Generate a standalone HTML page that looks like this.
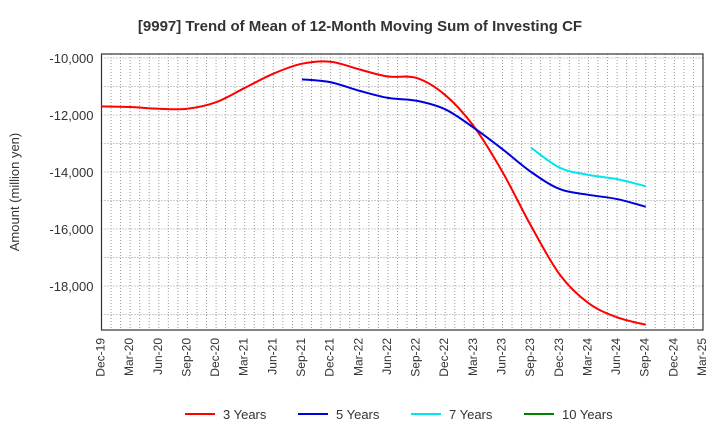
<!DOCTYPE html>
<html><head><meta charset="utf-8"><style>
body{margin:0;background:#fff;font-family:"Liberation Sans",sans-serif}
</style></head><body>
<svg id="chart" width="720" height="440" xmlns="http://www.w3.org/2000/svg" font-family="Liberation Sans, sans-serif">
<text x="360" y="31" text-anchor="middle" font-size="15" font-weight="bold" fill="#333">[9997]  Trend of Mean of 12-Month Moving Sum of Investing CF</text>
<g id="grid"></g><g id="axes"></g><g id="series"></g>
<text transform="translate(19,192) rotate(-90)" text-anchor="middle" font-size="13" fill="#333">Amount (million yen)</text>
<g id="legend"></g>
</svg>
<script>
const xLabels=["Dec-19","Mar-20","Jun-20","Sep-20","Dec-20","Mar-21","Jun-21","Sep-21","Dec-21","Mar-22","Jun-22","Sep-22","Dec-22","Mar-23","Jun-23","Sep-23","Dec-23","Mar-24","Jun-24","Sep-24","Dec-24","Mar-25"];
const yTicks=[-10000,-12000,-14000,-16000,-18000];
const s3=[-11700,-11720,-11780,-11780,-11550,-11050,-10550,-10200,-10130,-10400,-10650,-10700,-11300,-12400,-14000,-15900,-17600,-18600,-19100,-19360];
const s5=[null,null,null,null,null,null,null,-10750,-10850,-11150,-11400,-11500,-11800,-12450,-13200,-14000,-14600,-14800,-14950,-15220];
const s7=[null,null,null,null,null,null,null,null,null,null,null,null,null,null,null,-13150,-13850,-14100,-14250,-14500];
const s10=[];
const L=101.5,R=703,T=54,B=330;
const X=i=>L+i*(R-L)/21;
const Y=v=>58+(-10000-v)/2000*57;
const NS="http://www.w3.org/2000/svg";
function mk(t,a,p){const e=document.createElementNS(NS,t);for(const k in a)e.setAttribute(k,a[k]);p.appendChild(e);return e;}
const grid=document.getElementById('grid'),axes=document.getElementById('axes'),ser=document.getElementById('series'),leg=document.getElementById('legend');
mk('rect',{x:L,y:T,width:R-L,height:B-T,fill:'#fff'},grid);
for(let m=1;m<63;m++){const x=L+m*(R-L)/63;const l=mk('line',{x1:x,x2:x,y1:T,y2:B,stroke:'#999','stroke-dasharray':'1,2','stroke-width':1},grid);

}
for(let v=-10000;v>=-19000;v-=1000){const y=Y(v);const l=mk('line',{x1:L,x2:R,y1:y,y2:y,stroke:'#999','stroke-dasharray':'1,2'},grid);

}
const fr=mk('rect',{x:L,y:T,width:R-L,height:B-T,fill:'none',stroke:'#333','stroke-width':1.2},axes);


yTicks.forEach(v=>{const t=mk('text',{x:L-8,y:Y(v)+5,'text-anchor':'end','font-size':13,fill:'#333'},axes);t.textContent=v.toLocaleString('en-US');

});
xLabels.forEach((s,i)=>{const x=X(i);const t=mk('text',{transform:`translate(${x+3},${B+8}) rotate(-90)`,'text-anchor':'end','font-size':12,fill:'#333'},axes);t.textContent=s;

});
function path(arr){const p=[];arr.forEach((v,i)=>{if(v!=null)p.push([X(i),Y(v)]);});if(p.length<2)return '';
let d=`M${p[0][0]},${p[0][1]}`;for(let i=0;i<p.length-1;i++){const p0=p[i-1]||p[i],p1=p[i],p2=p[i+1],p3=p[i+2]||p2;
d+=` C${p1[0]+(p2[0]-p0[0])/6},${p1[1]+(p2[1]-p0[1])/6} ${p2[0]-(p3[0]-p1[0])/6},${p2[1]-(p3[1]-p1[1])/6} ${p2[0]},${p2[1]}`;}return d;}
const series=[["3 Years",s3,"#ff0000"],["5 Years",s5,"#0000dd"],["7 Years",s7,"#00e5ee"],["10 Years",s10,"#008000"]];
series.forEach(([n,a,c],k)=>{const d=path(a);if(d){const e=mk('path',{d:d,fill:'none',stroke:c,'stroke-width':2},ser);

}
const lx=185+k*113;const g=mk('g',{},leg);


mk('line',{x1:lx,x2:lx+30,y1:414,y2:414,stroke:c,'stroke-width':2},g);
const t=mk('text',{x:lx+38,y:419,'font-size':13,fill:'#333'},g);t.textContent=n;});
</script>
</body></html>
